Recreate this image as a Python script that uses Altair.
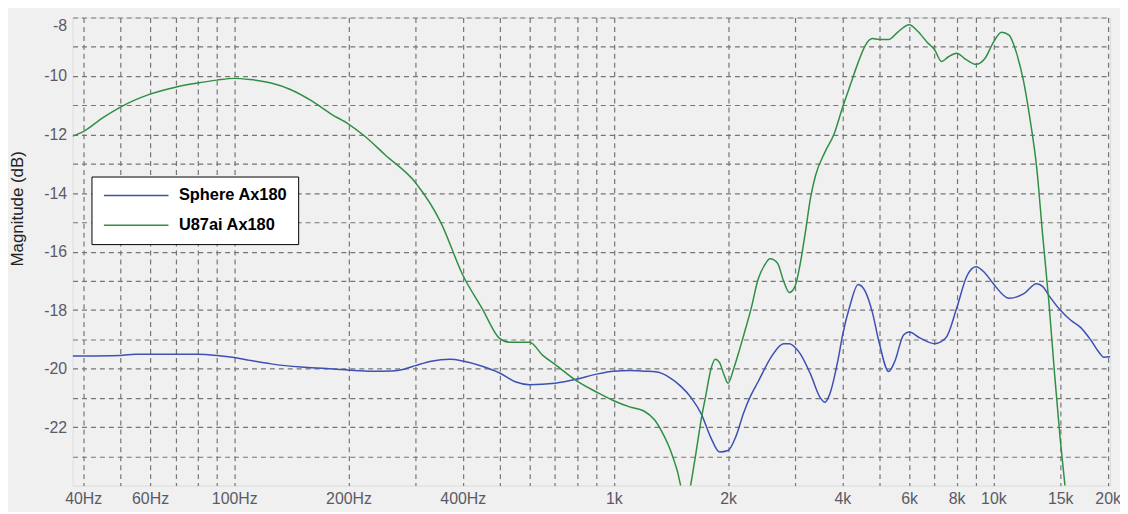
import altair as alt
import pandas as pd

SERIES = ["Sphere Ax180", "U87ai Ax180"]
COLORS = ["#3d50b3", "#2f8f45"]

sphere_freq = [37.5, 50, 55, 60, 80, 90, 100, 110, 125, 150, 175, 200, 230, 260, 280, 300,
               330, 370, 400, 450, 500, 550, 600, 700, 800, 900, 1000, 1100, 1200, 1300,
               1400, 1500, 1600, 1700, 1800, 1900, 2000, 2100, 2200, 2300, 2400, 2600,
               2800, 2900, 3000, 3100, 3300, 3500, 3600, 3700, 3900, 4000, 4200, 4400,
               4600, 4800, 5000, 5300, 5500, 5800, 6000, 6400, 7000, 7500, 8000, 8500,
               9000, 9500, 10000, 11000, 12000, 13000, 13500, 14000, 15000, 16000, 17000,
               18000, 19000, 19500, 20300]
sphere_db = [-19.57, -19.55, -19.51, -19.51, -19.51, -19.55, -19.62, -19.72, -19.84, -19.95,
             -20.0, -20.05, -20.09, -20.08, -20.02, -19.9, -19.75, -19.68, -19.74, -19.92,
             -20.15, -20.45, -20.55, -20.5, -20.36, -20.19, -20.09, -20.07, -20.09, -20.12,
             -20.3, -20.6, -21.0, -21.55, -22.35, -22.85, -22.8, -22.3, -21.5, -20.9, -20.45,
             -19.6, -19.15, -19.15, -19.27, -19.5, -20.2, -21.0, -21.15, -20.9, -19.68,
             -18.9, -17.8, -17.13, -17.37, -18.08, -19.1, -20.1, -19.75, -18.85, -18.75,
             -18.95, -19.15, -18.95, -17.95, -16.86, -16.52, -16.73, -17.1, -17.6, -17.45,
             -17.1, -17.2, -17.5, -18.0, -18.35, -18.6, -19.0, -19.45, -19.61, -19.6]

u87_freq = [37.5, 40, 45, 50, 60, 70, 80, 90, 100, 110, 125, 140, 160, 180, 200, 220, 250,
            300, 350, 400, 450, 500, 530, 600, 650, 700, 800, 900, 1000, 1100, 1200, 1280,
            1350, 1420, 1500, 1540, 1600, 1650, 1700, 1750, 1800, 1850, 1900, 1950, 2000,
            2070, 2150, 2200, 2300, 2400, 2500, 2580, 2700, 2800, 2900, 3000, 3100, 3200,
            3300, 3400, 3600, 3800, 4000, 4200, 4400, 4600, 4800, 5000, 5300, 5600, 6000,
            6300, 6700, 7000, 7300, 7600, 8000, 8500, 9000, 9500, 10000, 10500, 11000,
            11500, 12000, 12500, 13000, 13500, 14000, 14500, 15000, 15500, 16000]
u87_db = [-12.05, -11.9, -11.43, -11.07, -10.62, -10.38, -10.24, -10.14, -10.08, -10.12,
          -10.24, -10.45, -10.85, -11.3, -11.64, -12.04, -12.7, -13.64, -15.0, -16.8,
          -17.95, -18.97, -19.1, -19.1, -19.55, -19.86, -20.43, -20.8, -21.1, -21.31,
          -21.45, -21.75, -22.25, -22.9, -24.0, -25.0, -23.86, -22.8, -21.72, -20.87,
          -20.05, -19.68, -19.8, -20.2, -20.5, -20.0, -19.3, -18.85, -17.95, -16.95,
          -16.45, -16.25, -16.4, -17.0, -17.4, -17.2, -16.4, -15.3, -14.15, -13.4, -12.6,
          -12.0, -11.1, -10.3, -9.55, -8.95, -8.72, -8.75, -8.75, -8.5, -8.25, -8.45,
          -8.85, -9.1, -9.5, -9.35, -9.22, -9.45, -9.6, -9.4, -8.85, -8.5, -8.6, -9.2,
          -10.15, -11.5, -13.1, -15.5, -17.7, -20.2, -22.4, -24.2, -26.0]

x_domain = [37.5, 20300]
y_domain = [-24, -8]
x_grid = [40, 50, 60, 70, 80, 90, 100, 200, 300, 400, 500, 600, 700, 800, 900, 1000,
          2000, 3000, 4000, 5000, 6000, 7000, 8000, 9000, 10000, 15000, 20000]
x_label_freq = [40, 60, 100, 200, 400, 1000, 2000, 4000, 6000, 8000, 10000, 15000, 20000]
x_label_text = ["40Hz", "60Hz", "100Hz", "200Hz", "400Hz", "1k", "2k", "4k", "6k", "8k",
                "10k", "15k", "20k"]
y_grid = list(range(-23, -7))
y_label_vals = [-22, -20, -18, -16, -14, -12, -10, -8]

rows = []
for f, d in zip(sphere_freq, sphere_db):
    rows.append({"freq": f, "db": d, "series": SERIES[0]})
for f, d in zip(u87_freq, u87_db):
    rows.append({"freq": f, "db": d, "series": SERIES[1]})
df = pd.DataFrame(rows)

x_expr = "".join(f"datum.value == {f} ? '{t}' : " for f, t in zip(x_label_freq, x_label_text)) + "''"
y_expr = ("indexof([" + ",".join(str(v) for v in y_label_vals) +
          "], datum.value) >= 0 ? '' + datum.value : ''")

FONT = "Liberation Sans"

chart = alt.Chart(df).mark_line(strokeWidth=1.5, interpolate="monotone", clip=True).encode(
    x=alt.X("freq:Q",
            scale=alt.Scale(type="log", domain=x_domain, nice=False),
            axis=alt.Axis(values=x_grid, labelExpr=x_expr, title=None, grid=True,
                          gridDash=[5, 4], gridColor="#767676", gridWidth=1.2,
                          ticks=False, domain=False, labelOverlap=False, labelFlush=False,
                          labelPadding=5, labelFontSize=16, labelColor="#5a5a66",
                          labelFont=FONT)),
    y=alt.Y("db:Q",
            scale=alt.Scale(domain=y_domain, nice=False, zero=False),
            axis=alt.Axis(values=y_grid, labelExpr=y_expr, title="Magnitude (dB)",
                          grid=True, gridDash=[5, 4], gridColor="#767676", gridWidth=1.2,
                          ticks=False, domain=False, labelOverlap=False, labelFlush=True,
                          labelPadding=6, labelFontSize=16, labelColor="#5a5a66",
                          labelFont=FONT, titleFont=FONT, titleFontSize=17,
                          titleFontWeight="normal", titleColor="#222222",
                          titleX=-55, titleY=192, titleAngle=270, titleAlign="center",
                          titleBaseline="middle")),
    color=alt.Color("series:N",
                    scale=alt.Scale(domain=SERIES, range=COLORS),
                    legend=alt.Legend(title=None, orient="none", legendX=19, legendY=160,
                                      fillColor="white", strokeColor="black", padding=10,
                                      symbolType="M-0.8,0H7.2", symbolSize=264,
                                      symbolStrokeWidth=1.5, labelFontSize=16.5,
                                      labelFontWeight="bold", labelColor="black",
                                      labelFont=FONT, labelOffset=60, rowPadding=12,
                                      labelLimit=300)),
).properties(
    width=1044,
    height=471,
    autosize=alt.AutoSizeParams(type="none"),
    padding={"left": 65, "top": 8, "right": 10, "bottom": 25},
    background="#f0f0f0",
).configure_view(
    stroke="#787878", strokeWidth=2, fill="white"
).configure_legend(
    strokeWidth=1.5
).configure(font=FONT)

chart.save("out.html", embed_options={"renderer": "svg", "actions": False})
